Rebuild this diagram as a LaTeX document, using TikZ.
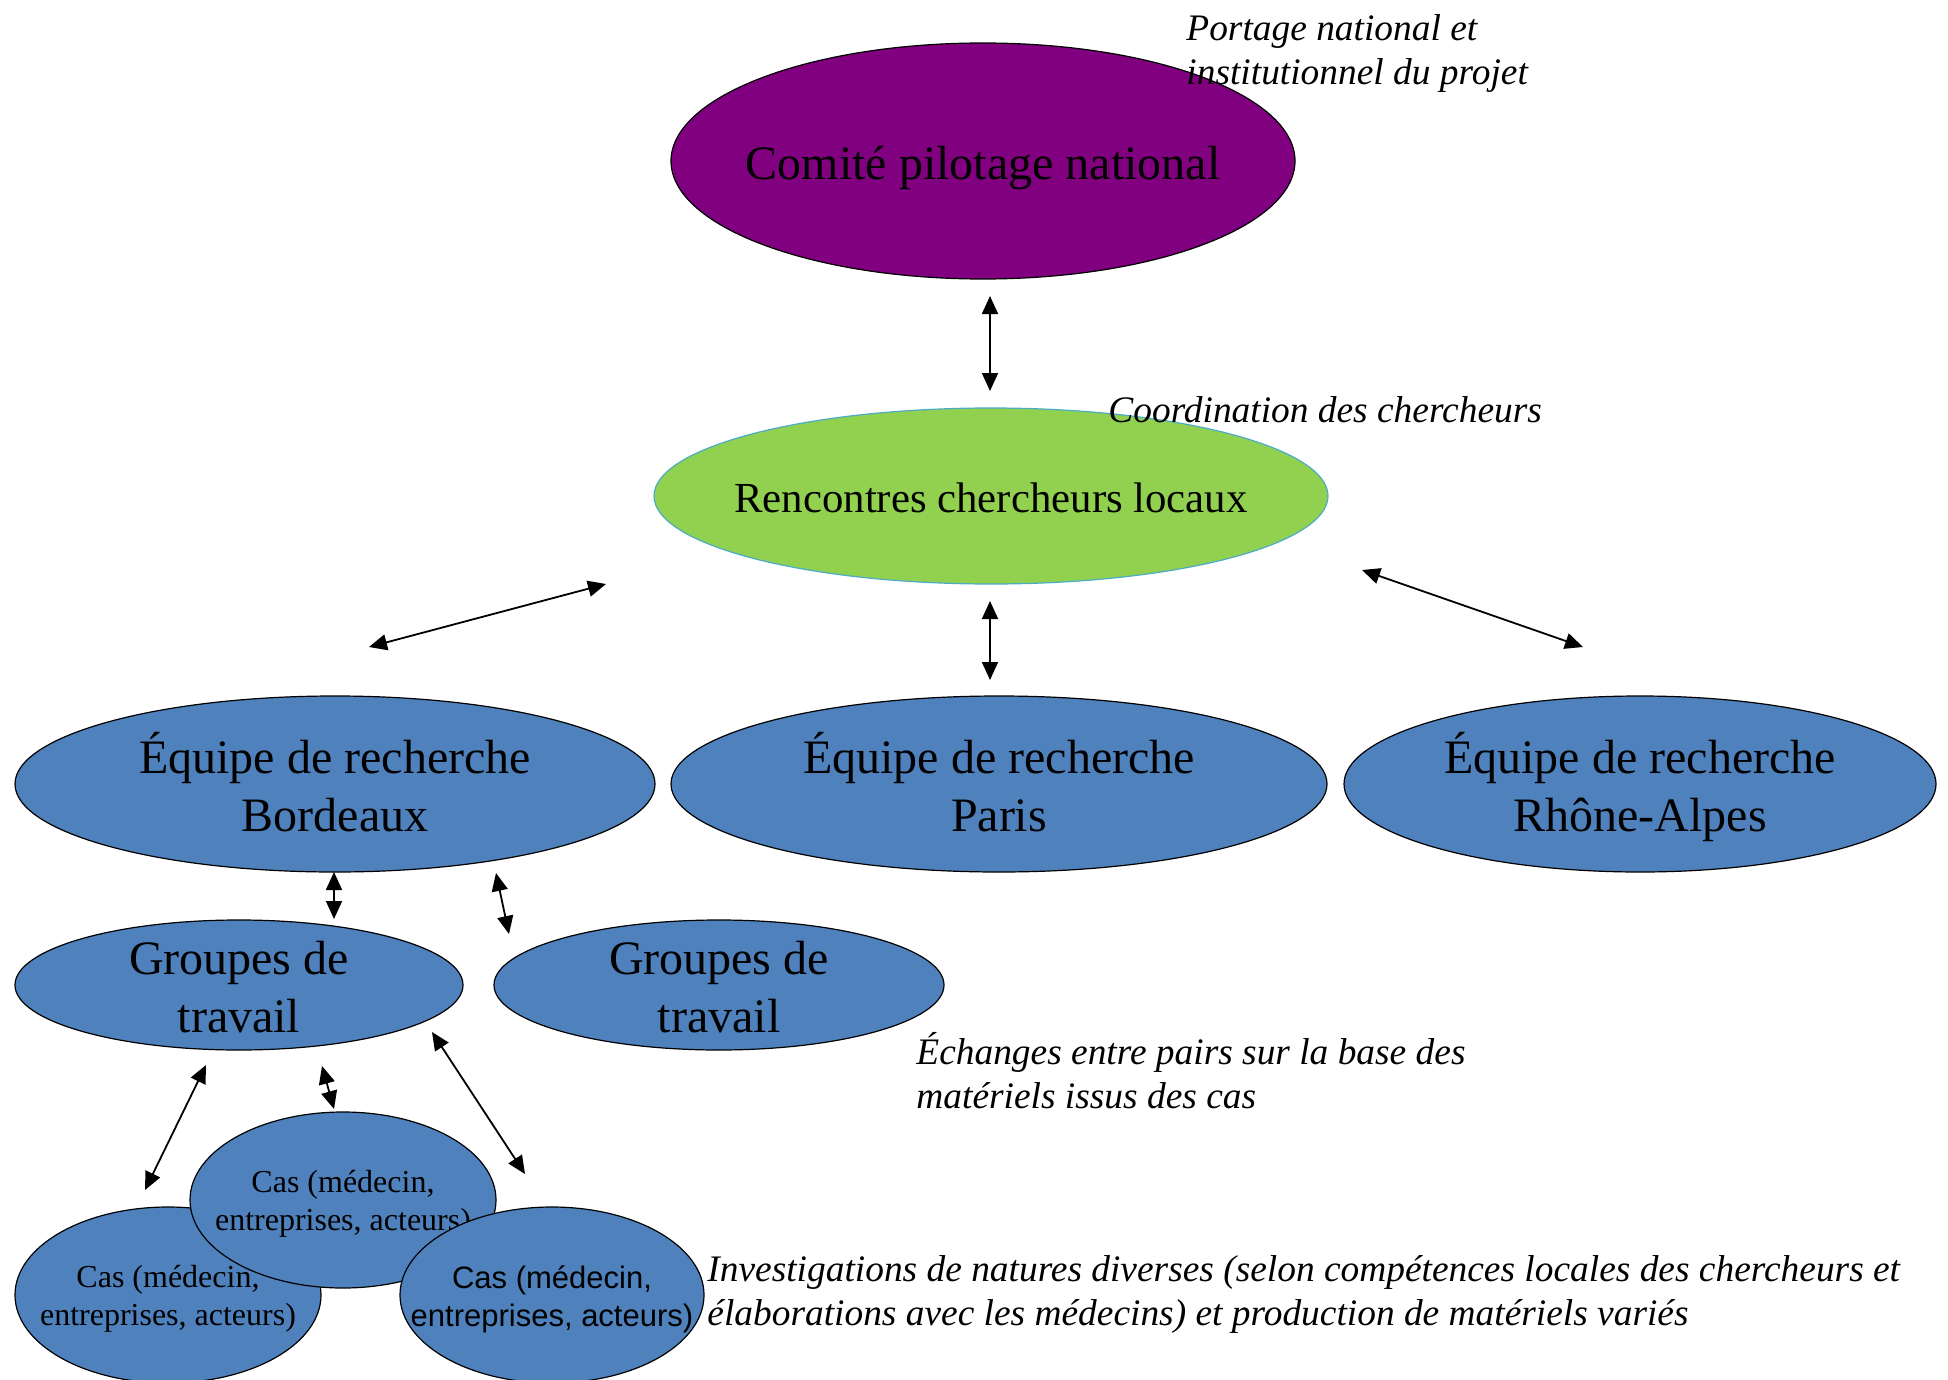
\documentclass[tikz,border=0pt]{standalone}
\usepackage{fontspec}
\setmainfont{Liberation Serif}
\newfontfamily\casfont{Liberation Sans}
\usetikzlibrary{arrows.meta}
\usetikzlibrary{shapes.geometric}

\definecolor{pilotage}{HTML}{800080}
\definecolor{rencontre}{HTML}{92D050}
\definecolor{rencontrebord}{HTML}{4BACC6}
\definecolor{equipe}{HTML}{4F81BD}

% text in an oval, kept from widening the oval
\newcommand{\ovaltext}[1]{\makebox[0pt]{\raisebox{-0.8em}{\smash{\begin{tabular}{@{}c@{}}#1\end{tabular}}}}}

\tikzset{
	oval/.style={ellipse, draw=black, fill=equipe, inner sep=0pt, line width=0.6pt},
	big/.style={font=\fontsize{24}{29}\selectfont},
	small/.style={font=\fontsize{16}{19}\selectfont},
	note/.style={anchor=west, align=left, inner sep=0pt, font=\fontsize{18.7}{22}\selectfont\itshape},
	link/.style={{Triangle[length=9pt,width=8pt]}-{Triangle[length=9pt,width=8pt]}, line width=0.9pt},
}

\begin{document}
\begin{tikzpicture}[x=0.5pt, y=-0.5pt]
	\useasboundingbox (0,0) rectangle (1948,1380);

	% national level
	\node[oval, big, fill=pilotage, minimum width=312pt, minimum height=118pt] (comite) at (983,161) {\ovaltext{Comité pilotage national}};
	\node[note] (portage) at (1186,54) {Portage national et\\institutionnel du projet};

	% researchers meeting
	\node[oval, fill=rencontre, draw=rencontrebord, font=\fontsize{21.4}{25}\selectfont, minimum width=337pt, minimum height=88pt] (rencontres) at (991,496) {\ovaltext{Rencontres chercheurs locaux}};
	\node[note] (coord) at (1108,410) {Coordination des chercheurs};

	% local teams
	\node[oval, big, minimum width=320pt, minimum height=88pt] (bordeaux) at (335,784) {\ovaltext{Équipe de recherche\\Bordeaux}};
	\node[oval, big, minimum width=328pt, minimum height=88pt] (paris) at (999,784) {\ovaltext{Équipe de recherche\\Paris}};
	\node[oval, big, minimum width=296pt, minimum height=88pt] (rhone) at (1640,784) {\ovaltext{Équipe de recherche\\Rhône-Alpes}};

	% working groups
	\node[oval, big, minimum width=224pt, minimum height=65pt] (groupe1) at (239,985) {\ovaltext{Groupes de\\travail}};
	\node[oval, big, minimum width=225pt, minimum height=65pt] (groupe2) at (719,985) {\ovaltext{Groupes de\\travail}};
	\node[note] (echanges) at (916,1071) {Échanges entre pairs sur la base des\\matériels issus des cas};

	% cases, drawn back to front
	\node[oval, small, minimum width=153pt, minimum height=88pt] (cas1) at (168,1295) {\ovaltext{Cas (médecin,\\entreprises, acteurs)}};
	\node[oval, small, minimum width=153pt, minimum height=88pt] (cas2) at (343,1200) {\ovaltext{Cas (médecin,\\entreprises, acteurs)}};
	\node[oval, minimum width=152pt, minimum height=88pt, font=\casfont\fontsize{15.5}{19}\selectfont] (cas3) at (552,1295) {\ovaltext{Cas (médecin,\\entreprises, acteurs)}};
	\node[note] (investig) at (707,1294) {Investigations de natures diverses (selon compétences locales des chercheurs et\\élaborations avec les médecins) et production de matériels variés};

	% arrow ends
	\coordinate (comite-a) at (990,296);   \coordinate (rencontres-a) at (990,391);
	\coordinate (rencontres-b) at (606,584); \coordinate (bordeaux-a) at (369,647);
	\coordinate (rencontres-c) at (990,601); \coordinate (paris-a) at (990,680);
	\coordinate (rencontres-d) at (1362,570); \coordinate (rhone-a) at (1583,647);
	\coordinate (bordeaux-b) at (334,872);  \coordinate (groupe1-a) at (334,919);
	\coordinate (bordeaux-c) at (496,873);  \coordinate (groupe2-a) at (509,934);
	\coordinate (groupe1-b) at (206,1065); \coordinate (cas1-a) at (145,1190);
	\coordinate (groupe1-c) at (322,1066); \coordinate (cas2-a) at (334,1109);
	\coordinate (groupe1-d) at (432,1032); \coordinate (cas3-a) at (525,1174);

	\draw[link] (comite-a) -- (rencontres-a);
	\draw[link] (rencontres-b) -- (bordeaux-a);
	\draw[link] (rencontres-c) -- (paris-a);
	\draw[link] (rencontres-d) -- (rhone-a);
	\draw[link] (bordeaux-b) -- (groupe1-a);
	\draw[link] (bordeaux-c) -- (groupe2-a);
	\draw[link] (groupe1-b) -- (cas1-a);
	\draw[link] (groupe1-c) -- (cas2-a);
	\draw[link] (groupe1-d) -- (cas3-a);

\end{tikzpicture}
\end{document}
